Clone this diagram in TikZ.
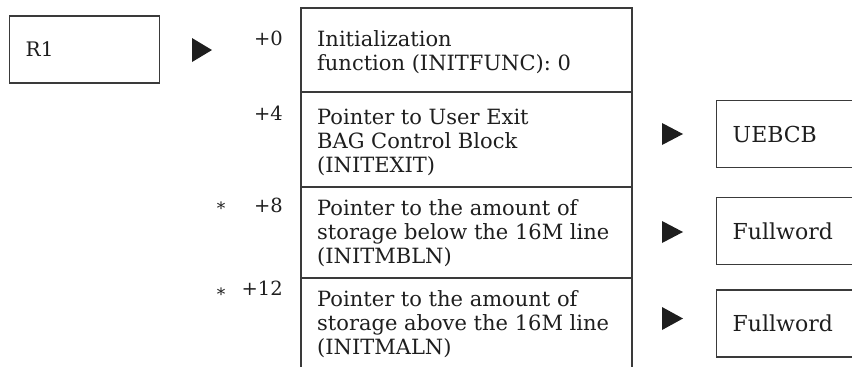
\documentclass[tikz,border=0pt]{standalone}
\usepackage{fontspec}
\setmainfont{DejaVu Serif}
\definecolor{ink}{HTML}{1E1E1E}
\definecolor{rule}{HTML}{3A3A3A}
\begin{document}
\begin{tikzpicture}[x=1pt,y=1pt,
  frame/.style={draw=rule, line width=1.4pt},
  cell/.style={anchor=base west, align=left, inner sep=0pt, text=ink,
    font=\fontsize{21}{24}\selectfont},
  offset/.style={anchor=base east, inner sep=0pt, text=ink,
    font=\fontsize{19.5}{24}\selectfont},
  star/.style={anchor=base, inner sep=0pt, text=ink,
    font=\fontsize{17}{17}\selectfont},
  boxed/.style={frame, rectangle, anchor=west, minimum height=67pt,
    inner xsep=16pt, align=left, text=ink},
  pointer/.style={fill=ink}]
\useasboundingbox (0,0) rectangle (852,-367);
\clip (0,0) rectangle (852,-367);

% register R1
\node[boxed, text width=118pt, font=\fontsize{20}{24}\selectfont] (r1) at (9,-49.5) {R1};
\fill[pointer] (192,-38) -- (192,-62) -- (212,-50) -- cycle;

% parameter list, open at the bottom
\coordinate (tl) at (301,-8);
\coordinate (tr) at (632,-8);
\draw[frame] (301,-367) -- (tl) -- (tr) -- (632,-367);
\draw[frame] (301,-92) -- (632,-92);
\draw[frame] (301,-187) -- (632,-187);
\draw[frame] (301,-278) -- (632,-278);

% cell texts, placed by the baseline of their last line
\node[cell] (func) at (317,-70) {Initialization\\function (INITFUNC): 0};
\node[cell] (exit) at (317,-172) {Pointer to User Exit\\BAG Control Block\\(INITEXIT)};
\node[cell] (mbln) at (317,-263) {Pointer to the amount of\\storage below the 16M line\\(INITMBLN)};
\node[cell] (maln) at (317,-354) {Pointer to the amount of\\storage above the 16M line\\(INITMALN)};

% offsets
\node[offset] (o0) at (283,-45) {+0};
\node[offset] (o4) at (283,-120) {+4};
\node[offset] (o8) at (283,-212) {+8};
\node[offset] (o12) at (283,-295) {+12};
\node[star] (s8) at (221,-214) {*};
\node[star] (s12) at (221,-300) {*};

% pointed-to areas
\node[boxed, text width=140pt, font=\fontsize{22}{24}\selectfont] (uebcb) at (716,-134) {UEBCB};
\node[boxed, text width=140pt, font=\fontsize{22}{24}\selectfont] (fw1) at (716,-231) {Fullword};
\node[boxed, text width=140pt, font=\fontsize{22}{24}\selectfont] (fw2) at (716,-323.5) {Fullword};
\fill[pointer] (662,-123) -- (662,-145) -- (683,-134) -- cycle;
\fill[pointer] (662,-221) -- (662,-243) -- (683,-232) -- cycle;
\fill[pointer] (662,-307) -- (662,-330) -- (683,-318.5) -- cycle;
\end{tikzpicture}
\end{document}
